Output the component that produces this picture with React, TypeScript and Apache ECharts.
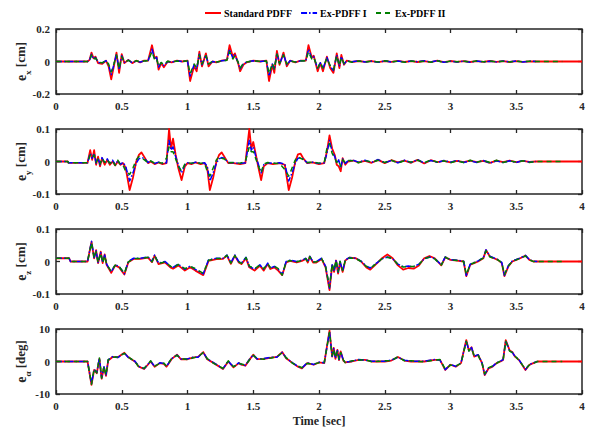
import React, { useEffect, useRef } from "react";
import * as echarts from "echarts";

const FONT = '"Liberation Serif", "Times New Roman", serif';
const SERIES_NAMES = ["Standard PDFF", "Ex-PDFF I", "Ex-PDFF II"];

// ---------- e_x ----------
const tX = [
  0, 0.24, 0.255, 0.27, 0.285, 0.3, 0.32, 0.35, 0.38, 0.4,
  0.42, 0.44, 0.46, 0.48, 0.5, 0.52, 0.55, 0.58, 0.61, 0.64,
  0.67, 0.7, 0.73, 0.75, 0.765, 0.78, 0.8, 0.82, 0.85, 0.88,
  0.92, 0.96, 1.0, 1.02, 1.05, 1.07, 1.09, 1.11, 1.14, 1.16,
  1.19, 1.22, 1.26, 1.3, 1.32, 1.345, 1.36, 1.385, 1.4, 1.425,
  1.45, 1.5, 1.55, 1.6, 1.62, 1.645, 1.66, 1.68, 1.7, 1.73,
  1.755, 1.78, 1.82, 1.86, 1.9, 1.92, 1.945, 1.96, 1.99, 2.01,
  2.03, 2.06, 2.085, 2.11, 2.135, 2.155, 2.17, 2.19, 2.21, 2.25,
  2.3, 2.35, 2.4, 2.45, 2.5, 2.55, 2.6, 2.65, 2.7, 2.75,
  2.8, 2.85, 2.9, 2.95, 3.0, 3.05, 3.1, 3.15, 3.2, 3.25,
  3.3, 3.35, 3.4, 3.45, 3.5, 3.55, 3.6, 3.65, 3.85, 4.0,
];
const exStd = [
  0, 0, 0.01, 0.055, 0.02, 0.03, -0.01, -0.015, 0.005, -0.03,
  -0.11, -0.03, 0.055, -0.07, 0.045, -0.01, 0.01, -0.01, 0.005, -0.005,
  0.005, 0.005, 0.1, 0.02, 0.03, -0.05, -0.01, -0.035, 0, -0.005,
  0.005, 0, 0.005, -0.12, -0.03, -0.06, 0.06, -0.03, 0.05, -0.03,
  0, -0.005, 0.005, 0.01, 0.1, 0.03, 0.05, -0.01, -0.06, -0.02,
  -0.005, 0.005, 0, 0.005, -0.12, -0.02, -0.07, 0.065, -0.02, 0.055,
  -0.03, 0.005, -0.005, 0.005, 0.005, 0.1, 0.025, 0.035, -0.06, -0.01,
  -0.06, 0.03, -0.04, -0.07, 0.05, -0.04, 0.04, -0.02, 0.005, -0.003,
  0.003, -0.002, 0.003, -0.004, 0.003, -0.002, 0.004, -0.003, 0.002, -0.003,
  0.003, -0.004, 0.005, -0.004, 0.003, -0.002, 0.002, -0.003, 0.002, -0.002,
  0.003, -0.002, 0.002, -0.003, 0.002, -0.002, 0.001, 0, 0, 0,
];
const exI = [
  0, 0, 0.008, 0.045, 0.015, 0.025, -0.005, -0.01, 0.005, -0.02,
  -0.08, -0.02, 0.045, -0.05, 0.035, -0.005, 0.008, -0.008, 0.004, -0.004,
  0.004, 0.004, 0.075, 0.015, 0.025, -0.035, -0.008, -0.025, 0, -0.004,
  0.004, 0, 0.004, -0.09, -0.02, -0.045, 0.045, -0.02, 0.04, -0.02,
  0, -0.004, 0.004, 0.008, 0.075, 0.02, 0.04, -0.005, -0.045, -0.015,
  -0.004, 0.004, 0, 0.004, -0.09, -0.015, -0.05, 0.05, -0.015, 0.045,
  -0.02, 0.004, -0.004, 0.004, 0.004, 0.075, 0.02, 0.03, -0.045, -0.008,
  -0.045, 0.025, -0.03, -0.055, 0.04, -0.03, 0.03, -0.015, 0.004, -0.002,
  0.004, -0.003, 0.002, -0.005, 0.004, -0.003, 0.003, -0.004, 0.003, -0.002,
  0.004, -0.003, 0.006, -0.005, 0.002, -0.003, 0.003, -0.004, 0.003, -0.003,
  0.002, -0.003, 0.003, -0.002, 0.003, -0.003, 0.002, 0, null, null,
];
const exII = [
  0, 0, 0.006, 0.04, 0.012, 0.022, -0.004, -0.008, 0.006, -0.015,
  -0.065, -0.015, 0.04, -0.045, 0.03, -0.004, 0.007, -0.006, 0.005, -0.003,
  0.003, 0.005, 0.06, 0.012, 0.02, -0.03, -0.006, -0.02, 0.002, -0.003,
  0.003, 0.001, 0.003, -0.075, -0.015, -0.04, 0.04, -0.015, 0.035, -0.015,
  0.001, -0.003, 0.003, 0.007, 0.06, 0.015, 0.035, -0.004, -0.04, -0.012,
  -0.003, 0.003, 0.001, 0.003, -0.075, -0.012, -0.045, 0.045, -0.012, 0.04,
  -0.015, 0.003, -0.003, 0.003, 0.005, 0.06, 0.015, 0.025, -0.04, -0.006,
  -0.04, 0.02, -0.025, -0.05, 0.035, -0.025, 0.025, -0.012, 0.003, -0.004,
  0.003, -0.004, 0.003, -0.003, 0.005, -0.002, 0.002, -0.005, 0.003, -0.002,
  0.002, -0.004, 0.004, -0.006, 0.003, -0.002, 0.002, -0.003, 0.004, -0.002,
  0.003, -0.002, 0.002, -0.003, 0.002, -0.002, 0.001, 0, 0, null,
];

// ---------- e_y ----------
const tY = [
  0, 0.09, 0.095, 0.24, 0.26, 0.275, 0.29, 0.305, 0.32, 0.335,
  0.35, 0.37, 0.39, 0.41, 0.43, 0.45, 0.47, 0.49, 0.51, 0.53,
  0.56, 0.585, 0.61, 0.63, 0.65, 0.67, 0.7, 0.72, 0.75, 0.78,
  0.81, 0.84, 0.86, 0.875, 0.89, 0.91, 0.93, 0.955, 0.98, 1.0,
  1.03, 1.06, 1.1, 1.13, 1.15, 1.17, 1.195, 1.22, 1.24, 1.26,
  1.28, 1.31, 1.35, 1.4, 1.44, 1.47, 1.485, 1.5, 1.52, 1.54,
  1.56, 1.58, 1.61, 1.65, 1.7, 1.74, 1.77, 1.795, 1.82, 1.84,
  1.86, 1.88, 1.91, 1.95, 2.0, 2.04, 2.06, 2.08, 2.1, 2.12,
  2.135, 2.15, 2.165, 2.18, 2.2, 2.22, 2.26, 2.3, 2.35, 2.4,
  2.45, 2.5, 2.55, 2.6, 2.65, 2.7, 2.75, 2.8, 2.85, 2.9,
  2.95, 3.0, 3.05, 3.1, 3.15, 3.2, 3.25, 3.3, 3.35, 3.4,
  3.45, 3.5, 3.55, 3.6, 3.65, 3.85, 4.0,
];
const eyStd = [
  0, 0, -0.004, -0.004, 0.035, 0.005, 0.035, -0.01, 0.015, -0.015,
  0.01, -0.01, 0.005, -0.01, 0, -0.012, 0, -0.01, -0.005, -0.02,
  -0.088, -0.05, 0, 0.02, 0.028, 0.015, -0.005, 0, -0.008, -0.003,
  -0.008, -0.005, 0.1, 0.04, 0.07, 0.02, -0.02, -0.057, -0.015, -0.005,
  -0.008, -0.003, -0.008, -0.005, -0.02, -0.088, -0.05, 0, 0.02, 0.028,
  0.015, -0.005, -0.005, -0.008, -0.005, 0.1, 0.04, 0.06, 0.02, -0.02,
  -0.057, -0.015, -0.005, -0.008, -0.005, -0.01, -0.088, -0.05, 0, 0.022,
  0.024, 0.01, -0.005, -0.003, -0.008, -0.005, 0.03, 0.08, 0.04, 0.02,
  -0.01, -0.015, -0.03, 0.01, -0.01, 0, 0.003, -0.003, 0.002, -0.004,
  0.005, -0.005, 0.004, -0.003, 0.003, -0.004, 0.005, -0.006, 0.004, -0.002,
  0.002, -0.003, 0.002, -0.002, 0.003, -0.002, 0.002, -0.004, 0.003, -0.002,
  0.003, -0.002, 0.002, -0.001, 0, 0, 0,
];
const eyI = [
  0, 0, -0.004, -0.004, 0.025, 0.01, 0.025, -0.005, 0.01, -0.01,
  0.012, -0.005, 0.008, -0.008, 0.004, -0.01, 0.003, -0.008, -0.003, -0.015,
  -0.06, -0.035, -0.005, 0.008, 0.012, 0.01, -0.003, 0.002, -0.006, -0.002,
  -0.006, -0.004, 0.065, 0.035, 0.045, 0.015, -0.01, -0.035, -0.01, -0.004,
  -0.006, -0.002, -0.006, -0.004, -0.015, -0.06, -0.035, -0.005, 0.008, 0.012,
  0.01, -0.003, -0.004, -0.006, -0.004, 0.065, 0.035, 0.045, 0.015, -0.01,
  -0.035, -0.01, -0.004, -0.006, -0.004, -0.008, -0.06, -0.035, -0.005, 0.01,
  0.012, 0.008, -0.004, -0.002, -0.006, -0.004, 0.025, 0.065, 0.03, 0.015,
  -0.005, 0.005, -0.02, 0.008, -0.006, 0.002, 0.004, -0.002, 0.004, -0.003,
  0.006, -0.004, 0.003, -0.004, 0.004, -0.003, 0.006, -0.005, 0.003, -0.003,
  0.003, -0.002, 0.003, -0.003, 0.002, -0.003, 0.003, -0.005, 0.002, -0.003,
  0.002, -0.003, 0.003, -0.002, 0, null, null,
];
const eyII = [
  0, 0, -0.004, -0.004, 0.02, 0.012, 0.02, -0.003, 0.008, -0.008,
  0.01, -0.003, 0.006, -0.006, 0.003, -0.012, 0.004, -0.01, -0.012, -0.03,
  -0.04, -0.02, 0.005, 0.015, 0.01, 0.006, -0.004, 0.002, -0.005, -0.003,
  -0.005, 0.01, 0.045, 0.03, 0.03, 0.008, -0.015, -0.03, -0.008, -0.004,
  -0.005, -0.004, -0.005, -0.006, -0.03, -0.045, -0.02, 0.005, 0.015, 0.01,
  0.008, -0.004, -0.003, -0.005, 0.0, 0.045, 0.03, 0.03, 0.008, -0.015,
  -0.035, -0.008, -0.003, -0.005, -0.006, -0.025, -0.045, -0.02, 0.005, 0.015,
  0.01, 0.006, -0.003, -0.002, -0.005, -0.002, 0.04, 0.055, 0.025, 0.01,
  -0.003, 0.003, -0.015, 0.005, -0.004, 0.003, 0.002, -0.004, 0.003, -0.002,
  0.004, -0.003, 0.004, -0.005, 0.003, -0.002, 0.004, -0.004, 0.005, -0.002,
  0.002, -0.004, 0.002, -0.003, 0.004, -0.002, 0.003, -0.003, 0.004, -0.003,
  0.002, -0.002, 0.002, -0.003, 0, 0, null,
];

// ---------- e_z ----------
const tZ = [
  0, 0.1, 0.11, 0.24, 0.27, 0.29, 0.305, 0.32, 0.34, 0.355,
  0.37, 0.385, 0.42, 0.45, 0.48, 0.52, 0.55, 0.59, 0.64, 0.7,
  0.73, 0.75, 0.78, 0.83, 0.87, 0.89, 0.93, 0.98, 1.02, 1.06,
  1.12, 1.16, 1.22, 1.27, 1.3, 1.33, 1.36, 1.39, 1.41, 1.445,
  1.47, 1.51, 1.55, 1.58, 1.61, 1.63, 1.66, 1.69, 1.72, 1.75,
  1.78, 1.83, 1.87, 1.9, 1.915, 1.93, 1.955, 1.98, 2.02, 2.05,
  2.08, 2.1, 2.115, 2.13, 2.145, 2.16, 2.18, 2.2, 2.23, 2.28,
  2.32, 2.36, 2.39, 2.44, 2.48, 2.52, 2.56, 2.6, 2.64, 2.68,
  2.72, 2.76, 2.8, 2.84, 2.88, 2.93, 2.96, 3.0, 3.05, 3.1,
  3.12, 3.15, 3.18, 3.21, 3.25, 3.27, 3.3, 3.33, 3.36, 3.39,
  3.41, 3.44, 3.47, 3.5, 3.53, 3.57, 3.6, 3.63, 3.66, 3.85,
  4.0,
];
const ezStd = [
  0.01, 0.01, 0, 0, 0.06, 0.01, 0.035, -0.005, 0.03, -0.005,
  0.022, -0.01, -0.035, -0.012, -0.018, -0.04, -0.002, 0.008, 0.008, 0.012,
  -0.002, 0.018, -0.008, -0.003, -0.018, -0.022, -0.012, -0.028, -0.018, -0.028,
  -0.042, 0.002, 0.007, 0.008, 0.018, -0.007, 0.018, -0.003, -0.008, 0.01,
  -0.018, -0.028, -0.013, -0.028, -0.008, -0.023, -0.018, -0.028, -0.042, -0.003,
  0.002, -0.003, 0.002, 0.008, -0.003, 0.015, -0.003, -0.003, 0.008, -0.018,
  -0.088, -0.012, -0.032, 0.003, -0.037, -0.002, -0.032, 0.003, 0.012, 0.01,
  0, -0.018, -0.025, -0.006, 0.01, 0.022, 0.01, -0.012, -0.025, -0.02,
  -0.022, -0.012, 0.01, 0.017, 0.01, -0.012, 0.013, 0.005, 0.003, 0,
  -0.045, -0.01, -0.005, 0, 0.01, 0.035, 0.015, 0.01, 0.005, -0.005,
  -0.045, -0.015, 0, 0.005, 0.01, 0.018, 0.005, 0, 0, 0,
  0,
];
const ezI = [
  0.01, 0.01, 0, 0, 0.062, 0.012, 0.033, -0.003, 0.028, -0.003,
  0.02, -0.008, -0.032, -0.01, -0.015, -0.038, 0, 0.01, 0.01, 0.014,
  0, 0.02, -0.005, 0, -0.015, -0.018, -0.008, -0.024, -0.014, -0.024,
  -0.038, 0.005, 0.01, 0.01, 0.02, -0.004, 0.02, 0, -0.005, 0.013,
  -0.015, -0.024, -0.01, -0.024, -0.005, -0.02, -0.015, -0.024, -0.04, 0,
  0.004, 0, 0.004, 0.01, -0.001, 0.016, -0.001, 0, 0.01, -0.015,
  -0.082, -0.01, -0.03, 0.005, -0.035, 0, -0.03, 0.005, 0.012, 0.01,
  0.001, -0.014, -0.02, -0.004, 0.008, 0.014, 0.008, -0.008, -0.016, -0.014,
  -0.016, -0.008, 0.008, 0.014, 0.009, -0.01, 0.014, 0.006, 0.004, 0.001,
  -0.043, -0.008, -0.003, 0.002, 0.012, 0.036, 0.016, 0.011, 0.006, -0.003,
  -0.043, -0.013, 0.002, 0.006, 0.011, 0.019, 0.006, 0.001, 0, null,
  null,
];
const ezII = [
  0.01, 0.01, 0, 0, 0.058, 0.01, 0.03, -0.004, 0.026, -0.004,
  0.018, -0.01, -0.03, -0.011, -0.016, -0.036, -0.001, 0.009, 0.009, 0.013,
  -0.001, 0.018, -0.006, -0.001, -0.014, -0.02, -0.009, -0.022, -0.015, -0.022,
  -0.036, 0.004, 0.009, 0.009, 0.019, -0.005, 0.018, -0.001, -0.006, 0.012,
  -0.014, -0.022, -0.011, -0.022, -0.006, -0.019, -0.014, -0.022, -0.042, -0.001,
  0.003, -0.001, 0.003, 0.009, -0.002, 0.015, -0.002, -0.001, 0.009, -0.016,
  -0.078, -0.008, -0.028, 0.004, -0.032, 0.001, -0.028, 0.004, 0.011, 0.009,
  0, -0.015, -0.021, -0.005, 0.009, 0.013, 0.009, -0.009, -0.017, -0.015,
  -0.015, -0.009, 0.009, 0.013, 0.008, -0.011, 0.013, 0.005, 0.003, 0,
  -0.04, -0.009, -0.004, 0.001, 0.011, 0.033, 0.014, 0.01, 0.005, -0.004,
  -0.04, -0.014, 0.001, 0.005, 0.01, 0.017, 0.005, 0, 0, 0,
  null,
];

// ---------- e_alpha ----------
const tA = [
  0, 0.24, 0.27, 0.29, 0.31, 0.33, 0.347, 0.365, 0.38, 0.397,
  0.43, 0.47, 0.52, 0.55, 0.6, 0.63, 0.67, 0.72, 0.75, 0.79,
  0.82, 0.84, 0.88, 0.92, 0.95, 1.0, 1.04, 1.08, 1.12, 1.15,
  1.2, 1.27, 1.31, 1.35, 1.39, 1.41, 1.44, 1.47, 1.5, 1.53,
  1.58, 1.64, 1.68, 1.72, 1.75, 1.8, 1.84, 1.87, 1.91, 1.96,
  2.0, 2.04, 2.08, 2.1, 2.112, 2.125, 2.14, 2.152, 2.165, 2.185,
  2.2, 2.25, 2.3, 2.35, 2.4, 2.5, 2.55, 2.6, 2.65, 2.7,
  2.8, 2.88, 2.92, 2.96, 3.0, 3.04, 3.08, 3.12, 3.14, 3.16,
  3.18, 3.21, 3.24, 3.26, 3.29, 3.32, 3.35, 3.38, 3.4, 3.42,
  3.45, 3.47, 3.49, 3.52, 3.57, 3.6, 3.63, 3.66, 3.85, 4.0,
];
const eaStd = [
  0, 0, -7.2, -2.6, -3.6, 0.8, -5.3, -1.8, -4.4, 0.3,
  1.4, 1.3, 2.7, 1.3, 0, -1.6, -2.3, 0, -1.6, -0.5,
  -0.7, -1.6, 0.8, 2.1, 0.7, 0.7, 1.2, 1.4, 2.9, 0.7,
  -0.5, -2.3, 0, -1.8, -0.5, -1.0, -1.3, 0.5, 2.1, 0.7,
  0.8, 1.2, 1.4, 2.9, 1.0, -0.5, -1.6, -2.1, -0.5, -1.0,
  -0.3, -0.5, 9.5, 1.5, 4.2, 0.8, 3.6, 0.4, 3.1, 0.3,
  -0.3, 0, 0.5, 0.5, 0, 0, 0.3, 1.4, 0.3, 0,
  0, 0.5, 0.5, -2.6, -1.0, -1.6, -0.5, 6.6, 3.4, 4.4,
  1.5, 2.0, -0.5, -4.2, -2.1, -1.6, -0.5, 0, 0.5, 6.6,
  3.4, 2.9, 1.5, 0.5, -2.6, -1.0, -0.5, 0, 0, 0,
];
const eaI = [
  0, 0, -6.8, -2.4, -3.4, 1.0, -5.0, -1.6, -4.1, 0.5,
  1.5, 1.2, 2.6, 1.2, 0.1, -1.5, -2.2, 0.1, -1.5, -0.4,
  -0.6, -1.5, 0.9, 2.0, 0.8, 0.8, 1.3, 1.3, 2.8, 0.8,
  -0.4, -2.2, 0.1, -1.7, -0.4, -0.9, -1.2, 0.6, 2.0, 0.8,
  0.9, 1.3, 1.3, 2.8, 1.1, -0.4, -1.5, -2.0, -0.4, -0.9,
  -0.2, -0.4, 9.2, 1.6, 4.0, 1.0, 3.4, 0.6, 3.0, 0.4,
  -0.2, 0.1, 0.6, 0.4, 0.1, 0.1, 0.4, 1.3, 0.4, 0.1,
  0.1, 0.6, 0.4, -2.5, -0.9, -1.5, -0.4, 6.4, 3.3, 4.3,
  1.6, 2.1, -0.4, -4.0, -2.0, -1.5, -0.4, 0.1, 0.6, 6.4,
  3.3, 2.8, 1.6, 0.6, -2.5, -0.9, -0.4, 0, null, null,
];
const eaII = [
  0, 0, -7.0, -2.2, -3.5, 1.1, -5.1, -1.5, -4.2, 0.6,
  1.3, 1.4, 2.5, 1.4, 0, -1.7, -2.1, 0.2, -1.4, -0.6,
  -0.5, -1.4, 1.0, 1.9, 0.9, 0.6, 1.1, 1.5, 2.7, 0.9,
  -0.6, -2.1, 0.2, -1.6, -0.6, -0.8, -1.1, 0.4, 1.9, 0.9,
  0.7, 1.1, 1.5, 2.7, 1.2, -0.6, -1.4, -1.9, -0.6, -0.8,
  -0.4, -0.3, 9.0, 1.8, 3.8, 1.2, 3.2, 0.7, 2.8, 0.5,
  -0.4, 0.2, 0.4, 0.6, -0.1, 0.2, 0.2, 1.5, 0.2, 0.2,
  -0.1, 0.4, 0.6, -2.3, -1.1, -1.4, -0.6, 6.2, 3.2, 4.1,
  1.7, 1.9, -0.6, -3.8, -1.9, -1.4, -0.6, 0.2, 0.4, 6.2,
  3.2, 2.7, 1.7, 0.4, -2.3, -1.1, -0.6, 0, 0, null,
];

// panel descriptors
const PANELS = [
  { sub: "x", unit: " [cm]", min: -0.2, max: 0.2, step: 0.2, t: tX, vals: [exStd, exI, exII] },
  { sub: "y", unit: " [cm]", min: -0.1, max: 0.1, step: 0.1, t: tY, vals: [eyStd, eyI, eyII] },
  { sub: "z", unit: " [cm]", min: -0.1, max: 0.1, step: 0.1, t: tZ, vals: [ezStd, ezI, ezII] },
  { sub: "α", unit: " [deg]", min: -10, max: 10, step: 10, t: tA, vals: [eaStd, eaI, eaII] },
];

const GRID_TOPS = [29, 129, 229, 329];
const AXIS_COLOR = "#262626";

function zip(t: number[], v: (number | null)[]) {
  const out: [number, number][] = [];
  for (let i = 0; i < t.length; i++) {
    if (v[i] !== null && v[i] !== undefined) out.push([t[i], v[i] as number]);
  }
  return out;
}

const LINE_STYLES = [
  { color: "#ff0000", width: 1.8, type: "solid" as any },
  { color: "#0000ff", width: 1.5, type: [6, 2, 1.5, 2] as any },
  { color: "#008000", width: 1.5, type: [5, 4] as any },
];

export default function App() {
  const ref = useRef<HTMLDivElement>(null);
  useEffect(() => {
    if (!ref.current) return;
    const chart = echarts.init(ref.current, null, { renderer: "svg" });

    const grid = GRID_TOPS.map((top) => ({
      left: 56,
      right: 8,
      top,
      height: 65,
      show: true,
      borderColor: AXIS_COLOR,
      borderWidth: 1.5,
      backgroundColor: "transparent",
    }));

    const tickStyle = { show: true, inside: true, length: 4, lineStyle: { color: AXIS_COLOR, width: 1.3 } };
    const labelBase = { fontFamily: FONT, fontWeight: "bold" as const, fontSize: 11, color: AXIS_COLOR };
    const noLine = { show: false, onZero: false };

    const xAxis: any[] = [];
    PANELS.forEach((_, i) => {
      xAxis.push({
        type: "value",
        gridIndex: i,
        min: 0,
        max: 4,
        interval: 0.5,
        position: "bottom",
        axisLine: noLine,
        axisTick: tickStyle,
        splitLine: { show: false },
        axisLabel: { ...labelBase, margin: 6, formatter: (v: number) => String(v) },
        ...(i === 3
          ? {
              name: "Time [sec]",
              nameLocation: "middle",
              nameGap: 21,
              nameMoveOverlap: false,
              nameTextStyle: { fontFamily: FONT, fontWeight: "bold", fontSize: 12, color: AXIS_COLOR },
            }
          : {}),
      });
    });
    PANELS.forEach((_, i) => {
      xAxis.push({
        type: "value",
        gridIndex: i,
        min: 0,
        max: 4,
        interval: 0.5,
        position: "top",
        axisLine: noLine,
        axisTick: tickStyle,
        splitLine: { show: false },
        axisLabel: { show: false },
      });
    });

    const yAxis: any[] = [];
    PANELS.forEach((p, i) => {
      yAxis.push({
        type: "value",
        gridIndex: i,
        min: p.min,
        max: p.max,
        interval: p.step,
        position: "left",
        axisLine: noLine,
        axisTick: tickStyle,
        splitLine: { show: false },
        axisLabel: { ...labelBase, margin: 6, formatter: (v: number) => String(+v.toFixed(2)) },
        name: `{e|e}{s|${p.sub}}{u|${p.unit}}`,
        nameLocation: "middle",
        nameRotate: 90,
        nameGap: 26,
        nameMoveOverlap: false,
        nameTextStyle: {
          rich: {
            e: { fontFamily: FONT, fontWeight: "bold", fontSize: 14, color: AXIS_COLOR, lineHeight: 16, verticalAlign: "top" },
            s: { fontFamily: FONT, fontWeight: "bold", fontSize: 9, color: AXIS_COLOR, lineHeight: 9, padding: [9, 0, 0, 0], verticalAlign: "top" },
            u: { fontFamily: FONT, fontWeight: "bold", fontSize: 13, color: AXIS_COLOR, lineHeight: 16, verticalAlign: "top" },
          },
        },
      });
    });
    PANELS.forEach((p, i) => {
      yAxis.push({
        type: "value",
        gridIndex: i,
        min: p.min,
        max: p.max,
        interval: p.step,
        position: "right",
        axisLine: noLine,
        axisTick: tickStyle,
        splitLine: { show: false },
        axisLabel: { show: false },
      });
    });

    const series: any[] = [];
    PANELS.forEach((p, i) => {
      p.vals.forEach((v, k) => {
        series.push({
          type: "line",
          name: SERIES_NAMES[k],
          xAxisIndex: i,
          yAxisIndex: i,
          data: zip(p.t, v),
          showSymbol: false,
          symbol: "none",
          lineStyle: { ...LINE_STYLES[k], join: "round", cap: "butt" },
          itemStyle: { color: LINE_STYLES[k].color },
          silent: true,
          z: 2 + k,
        });
      });
    });

    chart.setOption({
      animation: false,
      backgroundColor: "#ffffff",
      legend: {
        data: SERIES_NAMES,
        top: 3,
        left: 199,
        itemWidth: 16,
        itemHeight: 8,
        itemGap: 8,
        itemStyle: { opacity: 0 },
        textStyle: { fontFamily: FONT, fontWeight: "bold", fontSize: 10, color: "#000", padding: [0, 0, 0, -2] },
      },
      grid,
      xAxis,
      yAxis,
      series,
    });

    return () => chart.dispose();
  }, []);

  return (
    <div
      ref={ref}
      style={{ position: "absolute", left: 0, top: 0, width: 590, height: 434, background: "#fff" }}
    />
  );
}
